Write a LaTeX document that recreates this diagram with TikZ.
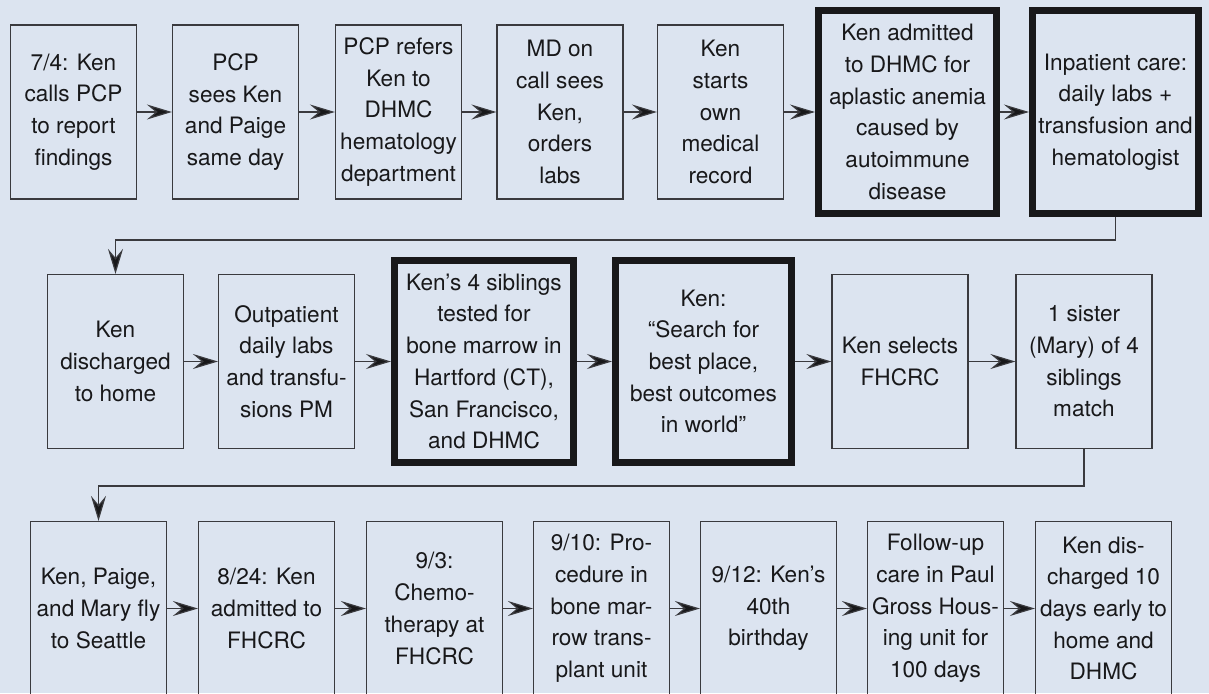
\documentclass[tikz,border=0pt]{standalone}
\usepackage{fontspec}
\setmainfont{TeX Gyre Heros}
\usepackage{xcolor}
\usetikzlibrary{arrows.meta,calc,positioning}
\definecolor{bgblue}{RGB}{220,228,240}
\definecolor{linegray}{RGB}{58,58,62}
\definecolor{inkdark}{RGB}{24,24,26}
\tikzset{
  stepbox/.style={draw=linegray, line width=1.2pt, minimum width=136pt, minimum height=174pt,
    inner sep=1pt, align=center, text=inkdark},
  narrowbox/.style={stepbox, minimum width=126pt},
  keybox/.style={draw=inkdark, line width=7pt, minimum height=202pt, inner sep=1pt,
    align=center, text=inkdark},
  flow/.style={draw=linegray, line width=1.2pt, -{Stealth[length=25pt,width=15pt,inset=9pt,fill=inkdark]}}
}

\begin{document}
\begin{tikzpicture}[x=1pt,y=-1pt,font=\fontsize{22.6}{31.7}\selectfont]
		\useasboundingbox (0,0) rectangle (1209,693);
		\fill[bgblue] (0,0) rectangle (1209,693);
		% first row
		\node[narrowbox] (call) at (73.5,112) {7/4: Ken\\calls PCP\\to report\\findings};
		\node[narrowbox] (visit) at (235.5,112) {PCP\\sees Ken\\and Paige\\same day};
		\node[narrowbox] (refer) at (398.5,112) {PCP refers\\Ken to\\DHMC\\hematology\\department};
		\node[narrowbox] (oncall) at (560,112) {MD on\\call sees\\Ken,\\orders\\labs};
		\node[narrowbox] (record) at (720.5,112) {Ken\\starts\\own\\medical\\record};
		\node[keybox, minimum width=178pt] (admit) at (907.5,112) {Ken admitted\\to DHMC for\\aplastic anemia\\caused by\\autoimmune\\disease};
		\node[keybox, minimum width=166pt] (inpat) at (1115.5,112) {Inpatient care:\\daily labs +\\transfusion and\\hematologist};
		\draw[flow] (call) -- (visit);
		\draw[flow] (visit) -- (refer);
		\draw[flow] (refer) -- (oncall);
		\draw[flow] (oncall) -- (record);
		\draw[flow] (record) -- (admit);
		\draw[flow] (admit) -- (inpat);
		% second row
		\node[stepbox] (home) at (115.5,361.5) {Ken\\discharged\\to home};
		\node[stepbox] (outpat) at (286.5,361.5) {Outpatient\\daily labs\\and transfu-\\sions PM};
		\node[keybox, minimum width=179pt] (sibs) at (484,361.5) {Ken’s 4 siblings\\tested for\\bone marrow in\\Hartford (CT),\\San Francisco,\\and DHMC};
		\node[keybox, minimum width=176pt] (search) at (703.5,361.5) {Ken:\\“Search for\\best place,\\best outcomes\\in world”};
		\node[stepbox] (select) at (900,361.5) {Ken selects\\FHCRC};
		\node[stepbox] (match) at (1084,361.5) {1 sister\\(Mary) of 4\\siblings\\match};
		\coordinate (bend1) at (0,240);
		\draw[flow] (inpat.south) -- (inpat.south |- bend1) -- (home.north |- bend1) -- (home.north);
		\draw[flow] (home) -- (outpat);
		\draw[flow] (outpat) -- (sibs);
		\draw[flow] (sibs) -- (search);
		\draw[flow] (search) -- (select);
		\draw[flow] (select) -- (match);
		% third row
		\node[stepbox] (fly) at (98.5,608.5) {Ken, Paige,\\and Mary fly\\to Seattle};
		\node[stepbox] (fhcrc) at (266.5,608.5) {8/24: Ken\\admitted to\\FHCRC};
		\node[stepbox] (chemo) at (434.5,608.5) {9/3:\\Chemo-\\therapy at\\FHCRC};
		\node[stepbox] (bmt) at (601.5,608.5) {9/10: Pro-\\cedure in\\bone mar-\\row trans-\\plant unit};
		\node[stepbox] (bday) at (768.5,608.5) {9/12: Ken’s\\40th\\birthday};
		\node[stepbox] (follow) at (935.5,608.5) {Follow-up\\care in Paul\\Gross Hous-\\ing unit for\\100 days};
		\node[stepbox] (dischg) at (1103.5,608.5) {Ken dis-\\charged 10\\days early to\\home and\\DHMC};
		\coordinate (bend2) at (0,486);
		\draw[flow] (match.south) -- (match.south |- bend2) -- (fly.north |- bend2) -- (fly.north);
		\draw[flow] (fly) -- (fhcrc);
		\draw[flow] (fhcrc) -- (chemo);
		\draw[flow] (chemo) -- (bmt);
		\draw[flow] (bmt) -- (bday);
		\draw[flow] (bday) -- (follow);
		\draw[flow] (follow) -- (dischg);
\end{tikzpicture}
\end{document}
